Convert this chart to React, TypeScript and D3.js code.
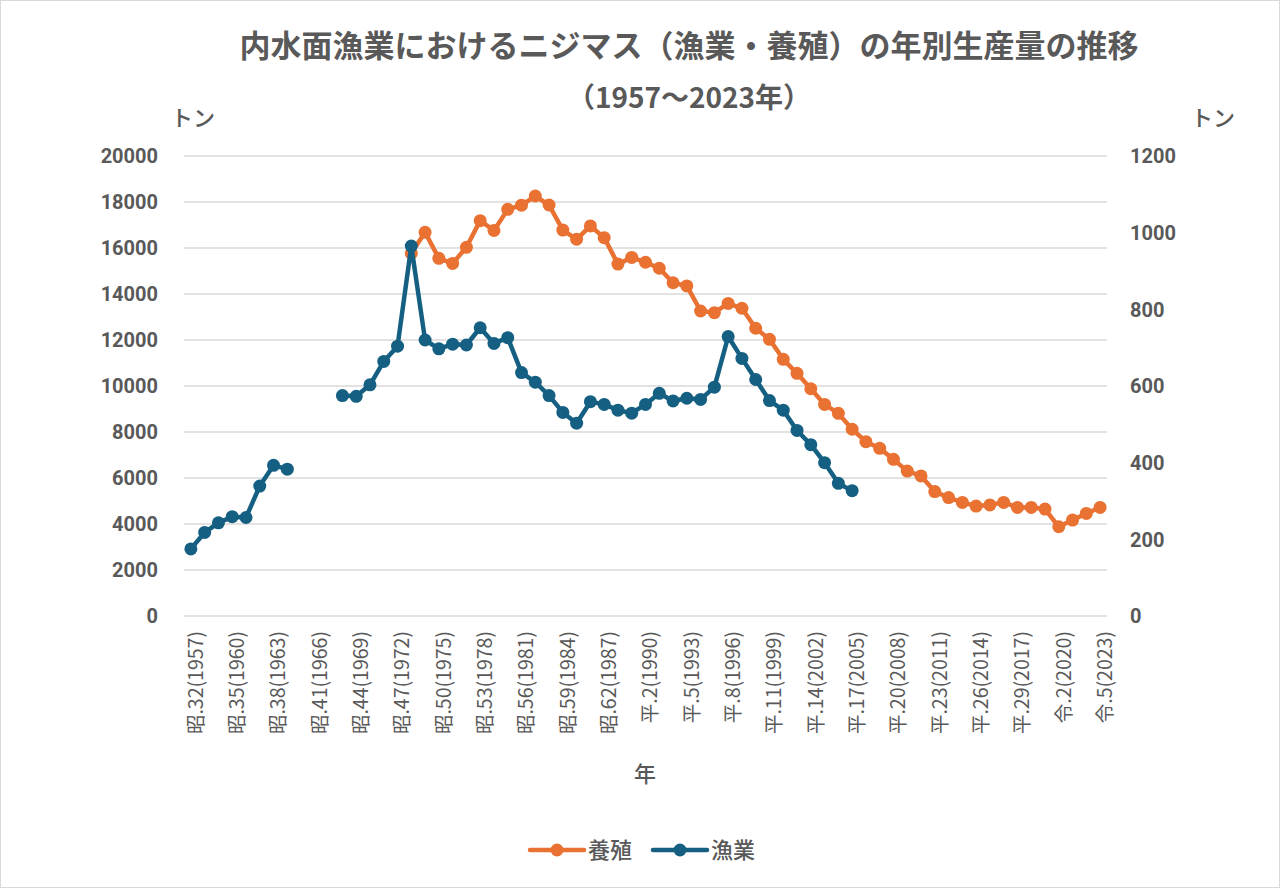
import React from "react";
import * as d3 from "d3";

const years: number[] = d3.range(1957, 2024);

const tickLabels: string[] = [
  "昭.32(1957)", "昭.35(1960)", "昭.38(1963)", "昭.41(1966)", "昭.44(1969)",
  "昭.47(1972)", "昭.50(1975)", "昭.53(1978)", "昭.56(1981)", "昭.59(1984)",
  "昭.62(1987)", "平.2(1990)", "平.5(1993)", "平.8(1996)", "平.11(1999)",
  "平.14(2002)", "平.17(2005)", "平.20(2008)", "平.23(2011)", "平.26(2014)",
  "平.29(2017)", "令.2(2020)", "令.5(2023)",
];
const tickYears: number[] = [
  1957, 1960, 1963, 1966, 1969, 1972, 1975, 1978, 1981, 1984, 1987, 1990,
  1993, 1996, 1999, 2002, 2005, 2008, 2011, 2014, 2017, 2020, 2023,
];

// 養殖 (left axis), 1973–2023
const aquaStart = 1973;
const aquaculture: number[] = [
  15770, 16680, 15550, 15330, 16030, 17190, 16760, 17680, 17860, 18260,
  17870, 16780, 16380, 16960, 16450, 15300, 15590, 15380, 15120, 14490,
  14350, 13260, 13190, 13590, 13380, 12510, 12030, 11160, 10550, 9880,
  9200, 8810, 8120, 7580, 7290, 6810, 6300, 6090, 5410, 5150,
  4940, 4780, 4830, 4940, 4720, 4720, 4650, 3880, 4170, 4460, 4720,
];

// 漁業 (right axis), 1957–2005 (null = no data)
const fishStart = 1957;
const fishing: (number | null)[] = [
  175, 218, 243, 259, 257, 339, 393, 383, null, null,
  null, 575, 573, 603, 664, 704, 965, 720, 697, 709,
  707, 752, 711, 726, 635, 610, 575, 531, 503, 559,
  552, 537, 529, 552, 581, 561, 568, 565, 597, 729,
  672, 617, 562, 537, 484, 447, 400, 346, 327,
];

const leftTicks: number[] = [0, 2000, 4000, 6000, 8000, 10000, 12000, 14000, 16000, 18000, 20000];
const rightTicks: number[] = [0, 200, 400, 600, 800, 1000, 1200];

const ORANGE = "#E97132";
const BLUE = "#156082";
const TEXT = "#595959";
const FONT = "'Noto Sans CJK JP', 'Noto Sans', sans-serif";
const NUMFONT = "Roboto, 'Noto Sans', sans-serif";

export default function App() {
  const W = 1280, H = 888;
  const left = 184, right = 1107, top = 156, bottom = 616;

  const x = d3.scalePoint<number>().domain(years).range([left, right]).padding(0.5);
  const yL = d3.scaleLinear().domain([0, 20000]).range([bottom, top]);
  const yR = d3.scaleLinear().domain([0, 1200]).range([bottom, top]);

  const aquaPts = aquaculture.map((v, i) => ({ year: aquaStart + i, v }));
  const fishPts = fishing.map((v, i) => ({ year: fishStart + i, v }));

  const lineA = d3.line<{ year: number; v: number }>()
    .x(d => x(d.year)!)
    .y(d => yL(d.v));
  const lineF = d3.line<{ year: number; v: number | null }>()
    .defined(d => d.v != null)
    .x(d => x(d.year)!)
    .y(d => yR(d.v as number));

  return (
    <svg width={W} height={H} style={{ position: "absolute", left: 0, top: 0, background: "#fff" }}>
      <rect x={0.5} y={0.5} width={W - 1} height={H - 1} fill="#fff" stroke="#d9d9d9" />
      <text x={689} y={57} textAnchor="middle" fontFamily={FONT} fontWeight={700} fontSize={31} fill={TEXT}>
        内水面漁業におけるニジマス（漁業・養殖）の年別生産量の推移
      </text>
      <text x={689} y={108} textAnchor="middle" fontFamily={FONT} fontWeight={700} fontSize={28} fill={TEXT}>
        （1957〜2023年）
      </text>
      <text x={193} y={126} textAnchor="middle" fontFamily={FONT} fontWeight={500} fontSize={22} fill={TEXT}>トン</text>
      <text x={1213} y={126} textAnchor="middle" fontFamily={FONT} fontWeight={500} fontSize={22} fill={TEXT}>トン</text>

      {leftTicks.map(t => (
        <g key={"g" + t}>
          <line x1={left} x2={right} y1={yL(t)} y2={yL(t)} stroke="#d9d9d9" strokeWidth={1.5} />
          <text x={158} y={yL(t)} dy="0.36em" textAnchor="end" fontFamily={NUMFONT} fontWeight={700} fontSize={20} fill={TEXT}>{t}</text>
        </g>
      ))}
      {rightTicks.map(t => (
        <text key={"r" + t} x={1130} y={yR(t)} dy="0.36em" textAnchor="start" fontFamily={NUMFONT} fontWeight={700} fontSize={20} fill={TEXT}>{t}</text>
      ))}

      {tickYears.map((yr, i) => (
        <text key={"x" + yr}
          transform={`translate(${x(yr)! + 5},${631}) rotate(-90)`}
          textAnchor="end" dy="0.35em"
          fontFamily={FONT} fontSize={19.5} fill={TEXT}>
          {tickLabels[i]}
        </text>
      ))}
      <text x={645} y={782} textAnchor="middle" fontFamily={FONT} fontWeight={500} fontSize={22} fill={TEXT}>年</text>

      <path d={lineA(aquaPts) || ""} fill="none" stroke={ORANGE} strokeWidth={4.5} strokeLinejoin="round" />
      {aquaPts.map(d => (
        <circle key={"a" + d.year} cx={x(d.year)!} cy={yL(d.v)} r={6.5} fill={ORANGE} />
      ))}
      <path d={lineF(fishPts) || ""} fill="none" stroke={BLUE} strokeWidth={4.5} strokeLinejoin="round" />
      {fishPts.filter(d => d.v != null).map(d => (
        <circle key={"f" + d.year} cx={x(d.year)!} cy={yR(d.v as number)} r={6.5} fill={BLUE} />
      ))}

      <g>
        <line x1={530} x2={584} y1={850} y2={850} stroke={ORANGE} strokeWidth={4.5} strokeLinecap="round" />
        <circle cx={557} cy={850} r={6.5} fill={ORANGE} />
        <text x={588} y={850} dy="0.36em" fontFamily={FONT} fontWeight={500} fontSize={22} fill={TEXT}>養殖</text>
        <line x1={653} x2={707} y1={850} y2={850} stroke={BLUE} strokeWidth={4.5} strokeLinecap="round" />
        <circle cx={680} cy={850} r={6.5} fill={BLUE} />
        <text x={711} y={850} dy="0.36em" fontFamily={FONT} fontWeight={500} fontSize={22} fill={TEXT}>漁業</text>
      </g>
    </svg>
  );
}
